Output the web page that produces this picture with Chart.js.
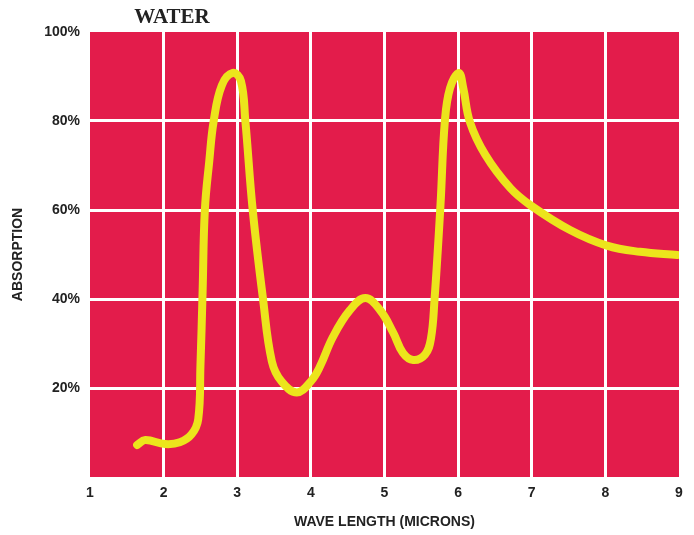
<!DOCTYPE html>
<html>
<head>
<meta charset="utf-8">
<script src="https://cdn.jsdelivr.net/npm/chart.js@4"></script>
<style>
  html, body { margin: 0; padding: 0; background: #fff; }
  #wrap { position: relative; width: 694px; height: 535px; }
  #title { position: absolute; left: 172px; top: 16px; transform: translate(-50%, -50%);
    font: bold 21px "Liberation Serif", "Times New Roman", serif; color: #222; }
</style>
</head>
<body>
<div id="wrap">
  <canvas id="chart" width="694" height="535"></canvas>
  <div id="title">WATER</div>
</div>
<script>
// wavelength (microns) and absorption (%)
const waveLength = [1.64, 1.75, 2.02, 2.22, 2.38, 2.47, 2.5, 2.53, 2.56, 2.62, 2.68, 2.79, 2.94, 3.05, 3.11, 3.21, 3.35, 3.47, 3.6, 3.81,
  4.0, 4.12, 4.3, 4.53, 4.74, 4.94, 5.12, 5.25, 5.39, 5.55, 5.63, 5.68, 5.76, 5.82, 5.89, 6.01, 6.07, 6.16, 6.37, 6.71,
  6.98, 7.52, 8.02, 8.47, 8.98];
const absorption = [7.2, 8.3, 7.4, 7.8, 9.6, 13, 25, 42, 60, 71, 80, 88, 90.8, 89, 80, 60, 40, 26, 21.5, 19,
  21.5, 24.7, 31.5, 37.5, 40.2, 37.5, 32.4, 27.9, 26.3, 27.5, 31, 40, 61, 80, 87.4, 90.8, 87.4, 79.8, 72.4, 64.9,
  61.1, 55.5, 52, 50.6, 49.9];
const xTicks = [1, 2, 3, 4, 5, 6, 7, 8, 9];
const yTicks = [0, 20, 40, 60, 80, 100];

const points = waveLength.map((x, i) => ({ x, y: absorption[i] }));
const textColor = "#222";
const font = (size) => ({ family: "'Liberation Sans', Arial, sans-serif", size, weight: "bold" });

const plotBg = {
  id: "plotBg",
  beforeDraw(c) {
    const a = c.chartArea, ctx = c.ctx;
    ctx.save();
    ctx.fillStyle = "#e31c4b";
    ctx.fillRect(a.left, a.top, a.right - a.left, a.bottom - a.top);
    ctx.restore();
  }
};

new Chart(document.getElementById("chart"), {
  type: "scatter",
  data: { datasets: [{
    data: points, showLine: true, borderColor: "#ece51c", borderWidth: 8,
    borderCapStyle: "round", borderJoinStyle: "round",
    tension: 0.4, pointRadius: 0
  }]},
  options: {
    responsive: false, animation: false,
    layout: { padding: { top: 32, right: 15, left: 0, bottom: 0 } },
    plugins: { legend: { display: false }, tooltip: { enabled: false } },
    scales: {
      x: {
        type: "linear", min: 1, max: 9,
        afterBuildTicks: (s) => { s.ticks = xTicks.map(v => ({ value: v })); },
        afterFit: (s) => { s.height = 58; },
        border: { display: false },
        grid: { drawTicks: false, lineWidth: 3, color: (c) => (c.tick && c.tick.value > 1 && c.tick.value < 9) ? "#fff" : "rgba(0,0,0,0)" },
        ticks: { padding: 8, color: textColor, font: font(14) },
        title: { display: true, text: "WAVE LENGTH (MICRONS)", color: textColor, font: font(14), padding: { top: 11 } }
      },
      y: {
        min: 0, max: 100,
        afterBuildTicks: (s) => { s.ticks = yTicks.map(v => ({ value: v })); },
        afterFit: (s) => { s.width = 90; },
        border: { display: false },
        grid: { drawTicks: false, lineWidth: 3, color: (c) => (c.tick && c.tick.value > 0 && c.tick.value < 100) ? "#fff" : "rgba(0,0,0,0)" },
        ticks: { padding: 10, color: textColor, font: font(14), callback: (v) => v === 0 ? "" : v + "%" },
        title: { display: true, text: "ABSORPTION", color: textColor, font: font(14), padding: { top: 10, bottom: 4 } }
      }
    }
  },
  plugins: [plotBg]
});
</script>
</body>
</html>
